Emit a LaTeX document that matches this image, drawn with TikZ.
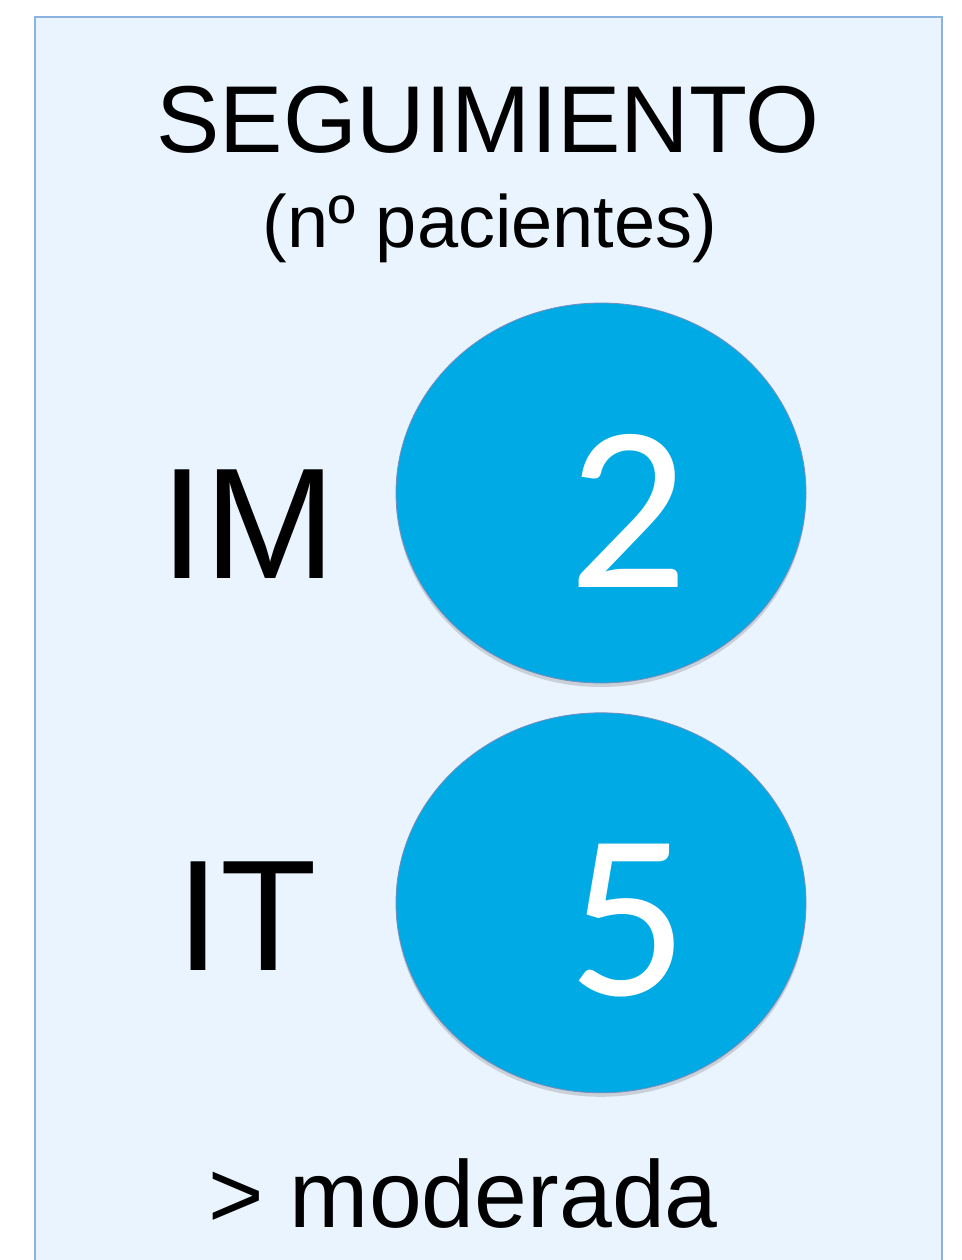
\documentclass[tikz,border=0pt]{standalone}
\usepackage{fontspec}
\setmainfont{Liberation Sans}
\newfontfamily\digitfont{Carlito}
\usepackage{xcolor}
\usetikzlibrary{positioning,shapes.geometric,shadows}
\definecolor{panelcolor}{RGB}{234, 244, 254}
\definecolor{panelborder}{RGB}{140, 178, 222}
\definecolor{countcolor}{RGB}{0, 170, 228}
\definecolor{countborder}{RGB}{120, 140, 190}
\tikzset{
    panel/.style={draw=panelborder, fill=panelcolor, line width=1.2pt},
    count/.style={ellipse, draw=countborder, fill=countcolor, line width=0.8pt,
        minimum width=410pt, minimum height=380pt, inner sep=0pt,
        drop shadow={shadow xshift=0pt, shadow yshift=-4pt, opacity=0.3, fill=black!50}},
    count number/.style={anchor=base, inner sep=0pt, text=white,
        font=\digitfont\fontsize{236}{240}\selectfont},
    group label/.style={anchor=base, inner sep=0pt, font=\fontsize{158}{165}\selectfont},
    title/.style={anchor=base, inner sep=0pt, font=\fontsize{95}{100}\selectfont},
    subtitle/.style={anchor=base, inner sep=0pt, font=\fontsize{74}{80}\selectfont}
}
\begin{document}
\begin{tikzpicture}[x=1pt, y=-1pt]
    \useasboundingbox (0,0) rectangle (961,1260);
    % Background panel
    \begin{scope}
        \clip (0,0) rectangle (961,1260);
        \draw[panel] (35,17) rectangle (942,1290);
    \end{scope}

    % Heading
    \node[title] (head) at (488,153) {SEGUIMIENTO};
    \node[subtitle] (unit) at (490,247) {(nº pacientes)};

    % Patient counts
    \node[count] (im) at (601,493) {};
    \node[count, below=29pt of im] (it) {};
    \node[count number] (imnum) at (628,587) {2};
    \node[count number] (itnum) at (628,995) {5};

    % Group labels
    \node[group label] (imlab) at (248,578) {IM};
    \node[group label] (itlab) at (247,970) {IT};

    % Footer
    \node[title] (foot) at (463,1227) {> moderada};
\end{tikzpicture}
\end{document}
